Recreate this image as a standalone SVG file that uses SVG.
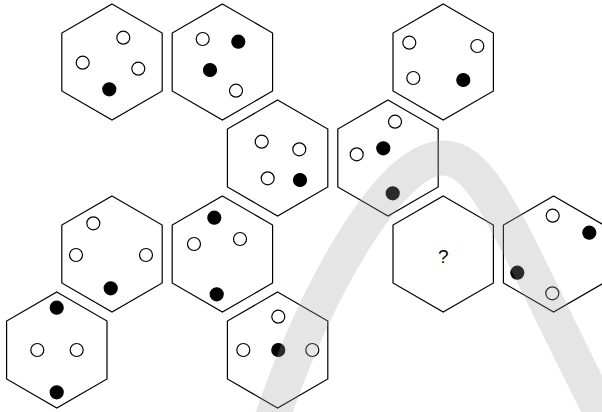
<svg xmlns="http://www.w3.org/2000/svg" xmlns:xlink="http://www.w3.org/1999/xlink" width="602" height="412" viewBox="0 0 602 412">
<defs>
<style>
.hex{fill:#fff;stroke:#000;stroke-width:1.2}
.o{fill:#fff;stroke:#000;stroke-width:1.2}
.f{fill:#000;stroke:#000;stroke-width:1.2}
.q{font-family:"Liberation Sans",Arial,sans-serif;font-size:19px;fill:#000;text-anchor:middle}
.wm{fill:none;stroke:#9e9e9e;stroke-opacity:0.27;stroke-width:35}
</style>
<polygon id="h" points="0,-58 50.2,-29 50.2,29 0,58 -50.2,29 -50.2,-29"/>
</defs>
<rect width="602" height="412" fill="#fff"/>
<g id="hex1"><use xlink:href="#h" class="hex" transform="translate(112,62)"/>
<circle class="o" cx="123.3" cy="37.7" r="6.5"/><circle class="o" cx="82.7" cy="62.7" r="6.5"/><circle class="o" cx="138.3" cy="68.7" r="6.5"/><circle class="f" cx="109.3" cy="89.3" r="6.5"/></g>
<g id="hex2"><use xlink:href="#h" class="hex" transform="translate(222.4,62)"/>
<circle class="o" cx="202.7" cy="39" r="6.5"/><circle class="f" cx="238.3" cy="41.7" r="6.5"/><circle class="f" cx="210" cy="70" r="6.5"/><circle class="o" cx="236" cy="90.7" r="6.5"/></g>
<g id="hex3"><use xlink:href="#h" class="hex" transform="translate(443.2,62)"/>
<circle class="o" cx="409.3" cy="42.7" r="6.5"/><circle class="o" cx="477.3" cy="46" r="6.5"/><circle class="o" cx="413.3" cy="78" r="6.5"/><circle class="f" cx="463.3" cy="80" r="6.5"/></g>
<g id="hex4"><use xlink:href="#h" class="hex" transform="translate(277.6,158)"/>
<circle class="o" cx="261.7" cy="141.7" r="6.5"/><circle class="o" cx="299.3" cy="149.3" r="6.5"/><circle class="o" cx="267.7" cy="178.3" r="6.5"/><circle class="f" cx="300" cy="180" r="6.5"/></g>
<g id="hex5"><use xlink:href="#h" class="hex" transform="translate(388,158)"/>
<circle class="o" cx="395" cy="121.7" r="6.5"/><circle class="o" cx="356.7" cy="154.3" r="6.5"/><circle class="f" cx="383.3" cy="148.3" r="6.5"/><circle class="f" cx="392.7" cy="193.3" r="6.5"/></g>
<g id="hex6"><use xlink:href="#h" class="hex" transform="translate(112,254)"/>
<circle class="o" cx="93.3" cy="223.3" r="6.5"/><circle class="o" cx="76" cy="255" r="6.5"/><circle class="o" cx="146" cy="255" r="6.5"/><circle class="f" cx="110.7" cy="288.3" r="6.5"/></g>
<g id="hex7"><use xlink:href="#h" class="hex" transform="translate(222.4,254)"/>
<circle class="f" cx="214.3" cy="217.7" r="6.5"/><circle class="o" cx="194" cy="244" r="6.5"/><circle class="o" cx="240" cy="239" r="6.5"/><circle class="f" cx="216.7" cy="294.3" r="6.5"/></g>
<g id="hex8"><use xlink:href="#h" class="hex" transform="translate(443.2,254)"/>
<text class="q" x="443.3" y="262.5">?</text></g>
<g id="hex9"><use xlink:href="#h" class="hex" transform="translate(553.6,254)"/>
<circle class="o" cx="552.7" cy="215.7" r="6.5"/><circle class="f" cx="589.3" cy="232.7" r="6.5"/><circle class="f" cx="517.3" cy="272.7" r="6.5"/><circle class="o" cx="552.3" cy="293.3" r="6.5"/></g>
<g id="hex10"><use xlink:href="#h" class="hex" transform="translate(56.8,350)"/>
<circle class="f" cx="56.7" cy="307.7" r="6.5"/><circle class="o" cx="37.3" cy="350" r="6.5"/><circle class="o" cx="76.7" cy="350" r="6.5"/><circle class="f" cx="56.7" cy="392.3" r="6.5"/></g>
<g id="hex11"><use xlink:href="#h" class="hex" transform="translate(277.6,350)"/>
<circle class="o" cx="278.3" cy="316.7" r="6.5"/><circle class="o" cx="243.3" cy="350" r="6.5"/><circle class="f" cx="278.3" cy="350" r="6.5"/><circle class="o" cx="312.3" cy="350" r="6.5"/></g>
<g id="connectors"></g>
<path id="watermark" class="wm" d="M268,430 C315,290 390,158 443,158 C488,158 512,240 615,440"/>
</svg>
